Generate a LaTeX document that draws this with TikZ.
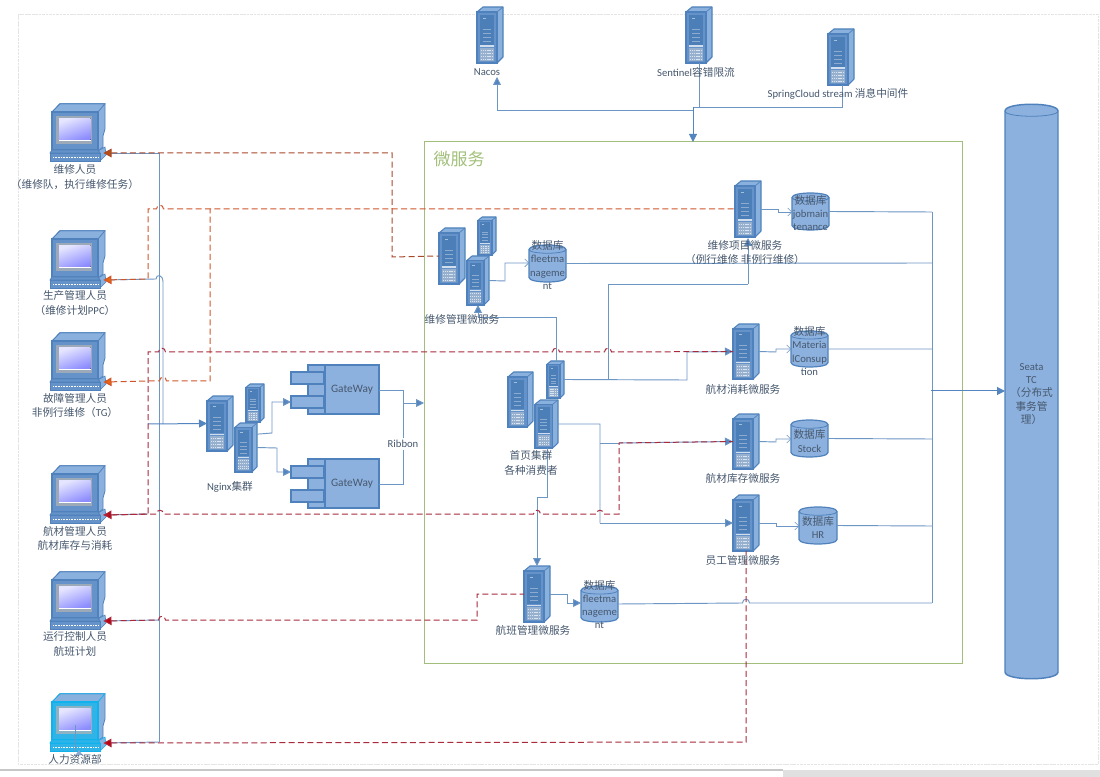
\documentclass[tikz,border=0pt]{standalone}
\usepackage{fontspec}
\setmainfont{Carlito}
\newfontfamily\cjk{Noto Sans CJK SC}
\usetikzlibrary{arrows.meta}
\definecolor{blueFill}{HTML}{8DB1DE}
\definecolor{blueSide}{HTML}{8AB0DE}
\definecolor{blueFront}{HTML}{6592C8}
\definecolor{blueEdge}{HTML}{4F82BC}
\definecolor{panelDark}{HTML}{4C7FB7}
\definecolor{link}{HTML}{6C96C4}
\definecolor{linkDark}{HTML}{5585BE}
\definecolor{txt}{HTML}{46586E}
\definecolor{dashA}{HTML}{A8482A}
\definecolor{dashB}{HTML}{D0552A}
\definecolor{dashC}{HTML}{A82A3C}
\definecolor{tipA}{HTML}{B8500F}
\definecolor{tipB}{HTML}{E8640F}
\definecolor{tipC}{HTML}{C00010}
\definecolor{frameG}{HTML}{A3BD7C}
\definecolor{titleG}{HTML}{A2C07A}
\definecolor{cyanEdge}{HTML}{10B2EE}
\definecolor{cyanFront}{HTML}{30B4E8}
\newcommand\C[1]{{\cjk #1}}
\newcommand\hr[2]{-- (#1-3.5,#2) .. controls (#1-3.5,#2-5) and (#1+3.5,#2-5) .. (#1+3.5,#2)}
\tikzset{
  x=0.75pt,y=-0.75pt,
  lnk/.style={draw=link,line width=0.7pt},
  lnkB/.style={draw=linkDark,line width=0.75pt},
  big/.style={-{Triangle[length=6pt,width=6pt,fill=linkDark]}},
  barb/.style={-{Straight Barb[length=3pt,width=6pt,line width=0.4pt]}},
  dsh/.style={line width=0.75pt,dash pattern=on 4.5pt off 2.5pt},
  tipR/.style={{Triangle[length=6pt,width=6.5pt,fill=#1]}-},
  lab/.style={inner sep=0pt,text=txt,font=\fontsize{8}{10.8}\selectfont,align=center},
  dbt/.style={inner sep=0pt,text=txt,font=\fontsize{8}{9.9}\selectfont,align=center},
  holder/.style={inner sep=0pt,outer sep=0pt,draw=none,fill=none},
}
% server: name, x, y, width, height
\newcommand\srv[5]{%
  \begin{scope}[shift={(#2,#3)},xscale=#4/26,yscale=#5/56]
    \fill[blueSide,draw=blueEdge,line width=0.8pt,line join=round] (0,5) -- (6,0) -- (26,0) -- (26,50) -- (20,56) -- (0,56) -- cycle;
    \fill[blueFront,draw=blueEdge,line width=1pt] (0,5) rectangle (20,56);
    \draw[blueEdge,line width=0.5pt] (20,5) -- (26,0);
    \fill[panelDark] (3,8) rectangle (17,38);
    \fill[white!70!blueFront] (3,38.5) rectangle (17,40);
    \fill[white!35!blueFront!85!gray] (3,41) rectangle (17,54);
    \foreach \yy in {43,46,49,52} {\draw[white!75!blueFront,line width=0.35pt,dash pattern=on 0.8pt off 0.6pt] (4,\yy) -- (16,\yy);}
    \foreach \yy in {22,26,30,34} {\draw[white!35!panelDark,line width=0.35pt] (6,\yy) -- (14,\yy);}
    \draw[white!50!panelDark,line width=0.5pt] (6,11) -- (9,11);
    \node[holder,minimum width=#4*0.75pt,minimum height=#5*0.75pt] (#1) at (13,28) {};
  \end{scope}}
% terminal: name, x, y, edge, front
\newcommand\term[5]{%
  \begin{scope}[shift={(#2,#3)}]
    \fill[blueSide,draw=blueEdge,line width=0.6pt,line join=round] (2,9) -- (10,0.7) -- (55,0.7) -- (55,26) -- (53,33) -- (53,44) -- (48,48) -- (2,48) -- cycle;
    \draw[#4,line width=0.6pt] (2,9) -- (10,0.7) -- (55,0.7) -- (48,9);
    \fill[#5,draw=#4,line width=0.9pt] (2,9) rectangle (48,47);
    \fill[black!30!white!70!#5] (6,13) rectangle (42,41);
    \fill[left color=white!90!blue,right color=blue!45!white,shading angle=20] (9,15.5) rectangle (40.5,37);
    \draw[white,line width=0.5pt] (9,37.6) -- (40.5,37.6);
    \fill[blueSide,draw=#4,line width=0.5pt,line join=round] (48,48) -- (55,44) -- (56,52) -- (50,58) -- (50,50) -- cycle;
    \fill[#5,draw=#4,line width=0.6pt] (2,47) -- (48,47) -- (50,50) -- (0,50) -- cycle;
    \fill[#5,draw=#4,line width=0.7pt] (0,50) rectangle (50,58);
    \draw[white,line width=1.4pt,dash pattern=on 0.7pt off 0.5pt] (3,54.5) -- (48,54.5);
    \node[holder,minimum width=42pt,minimum height=43.5pt] (#1) at (28,29) {};
    \coordinate (#1p) at (53.5,50);
  \end{scope}}
% database: name, x, y, w, h
\newcommand\dbase[5]{%
  \begin{scope}[shift={(#2,#3)},xscale=#4/37,yscale=#5/37]
    \fill[blueFill,draw=blueEdge,line width=0.9pt] (0,4.5) -- (0,32.5) .. controls (0,38.5) and (37,38.5) .. (37,32.5) -- (37,4.5) .. controls (37,-1.5) and (0,-1.5) .. (0,4.5) -- cycle;
    \draw[blueEdge,line width=0.6pt] (0,4.5) .. controls (0,9.5) and (37,9.5) .. (37,4.5);
    \node[holder,minimum width=#4*0.75pt,minimum height=#5*0.75pt] (#1) at (18.5,18.5) {};
  \end{scope}}
% gateway: name, x, y (top-left of prongs)
\newcommand\gatew[3]{%
  \begin{scope}[shift={(#2,#3)}]
    \fill[blueFill,draw=blueEdge,line width=1pt] (17,0) rectangle (34,49);
    \fill[blueFill,draw=blueEdge,line width=1pt] (34,0) rectangle (88,49);
    \fill[blueFill,draw=blueEdge,line width=1pt] (0,7) rectangle (33,19);
    \fill[blueFill,draw=blueEdge,line width=1pt] (0,31) rectangle (33,43);
    \node[holder,minimum width=66pt,minimum height=36.75pt] (#1) at (44,24.5) {};
    \node[lab,font=\fontsize{8.5}{10}\selectfont] (#1t) at (61,24.5) {GateWay};
  \end{scope}}
\begin{document}
\begin{tikzpicture}
\useasboundingbox (0,0) rectangle (1100,777);
\fill[white] (0,0) rectangle (1100,777);
% frames
\draw[black!10,line width=0.5pt,dash pattern=on 2pt off 0.6pt] (18,14) rectangle (1098,764);
\draw[black!22,line width=0.8pt] (0,770) -- (783,770);
\fill[black!12] (783,769.5) rectangle (1100,777);
\draw[frameG,line width=0.75pt] (424,142) rectangle (962,663);
\node[inner sep=0pt,text=titleG,font=\fontsize{12.75}{14}\selectfont] (title) at (459,159) {\C{微服务}};

% shapes
\srv{nacos}{477}{7}{26}{56}
\srv{sentinel}{686}{7}{26}{56}
\srv{spring}{828}{29}{26}{56}
\srv{job}{735}{181}{26}{56}
\srv{mbig}{439}{228}{26}{56}
\srv{msmall}{478}{217}{18}{38}
\srv{mmid}{467}{256}{22}{49}
\srv{nbig}{207}{396}{26}{55}
\srv{nsmall}{246}{384}{18}{38}
\srv{nmid}{235}{423}{22}{49}
\srv{hbig}{508}{372}{25}{55}
\srv{hsmall}{547}{361}{17}{37}
\srv{hmid}{535}{400}{23}{48}
\srv{flight}{524}{566}{26}{56}
\srv{cons}{733}{324}{26}{55}
\srv{stock}{733}{414}{26}{55}
\srv{staff}{733}{495}{26}{56}
\dbase{djob}{792}{193}{37}{37}
\dbase{dfleet}{529}{245}{37}{37}
\dbase{dmat}{791}{331}{37}{36}
\dbase{dstock}{791}{420}{37}{37}
\dbase{dhr}{799}{507}{38}{37}
\dbase{dfleetb}{581}{586}{37}{36}
\gatew{gwa}{291}{365}
\gatew{gwb}{291}{459}
% Seata cylinder
\fill[blueFill,draw=blueEdge,line width=1.1pt] (1005,111) -- (1005,672) .. controls (1005,681) and (1058,681) .. (1058,672) -- (1058,111) .. controls (1058,102) and (1005,102) .. (1005,111) -- cycle;
\draw[blueEdge,line width=0.6pt] (1005,111) .. controls (1005,118) and (1058,118) .. (1058,111);
\node[holder,minimum width=39.75pt,minimum height=430pt] (seata) at (1031.5,391) {};
\term{pca}{50}{103}{blueEdge}{blueFront}
\term{pcb}{50}{230}{blueEdge}{blueFront}
\term{pcc}{50}{332}{blueEdge}{blueFront}
\term{pcd}{50}{465}{blueEdge}{blueFront}
\term{pce}{50}{571}{blueEdge}{blueFront}
\term{pcf}{50}{693}{cyanEdge}{cyanFront}
\draw[link,line width=0.4pt] (75,725) -- (75,752);
\fill[linkDark!70!white] (79,750) -- (75.5,755) -- (82.5,755) -- cycle;

% blue links, left side
\draw[lnk] (159,153) -- (159,742);
\draw[lnk] (pcap) -- (159,153);
\draw[lnk] (pcep) -- (159,620);
\draw[lnk] (pcfp) -- (159,742);
\draw[lnk] (pcbp) -- (156,279) .. controls (156,274) and (163,274) .. (163,282) -- (163,424);
\draw[lnkB,big] (148,424) -- (nbig.west);
\draw[lnk] (pcdp) -- (148,514);
% nginx to gateways
\draw[lnk,big] ([yshift=10pt]nmid.east) -- (272,433) -- (272,402) -- (291,402);
\draw[lnk,big] (nmid.east) -- (277,448) -- (277,472) -- (291,472);
\draw[lnk] (379,390) -- (403,390) -- (403,484) -- (379,484);
\draw[lnk,big] (403,403) -- (424,403);
\node[lab,fill=white,inner xsep=1pt,inner ysep=2pt] (ribbon) at (403,444) {Ribbon};
% top links
\draw[lnk,big] (693,110) -- (497,110) -- (497,77);
\draw[lnk] (699,63) -- (699,107);
\draw[lnk] (842,85) -- (842,107) -- (693,107);
\draw[lnkB,big] (693,107) -- (693,142);
% service to database
\draw[lnk,barb] (mmid.east) -- (505,281) -- (505,263) -- (529,263);
\draw[lnk,barb] (job.east) -- (778,209) -- (778,212) -- (792,212);
\draw[lnk,barb] (cons.east) -- (776,352) -- (776,349) -- (791,349);
\draw[lnk,barb] (stock.east) -- (776,442) -- (776,439) -- (791,439);
\draw[lnk,barb] (staff.east) -- (776,523) -- (776,526) -- (799,526);
\draw[lnk,big] (flight.east) -- (567,594) -- (567,603) -- (581,603);
% database to TC
\draw[lnk] (dfleet.east) -- (932,263);
\draw[lnk] (djob.east) -- (932,212);
\draw[lnk] (dmat.east) -- (932,349);
\draw[lnk] (dstock.east) -- (932,439);
\draw[lnk] (dhr.east) -- (932,526);
\draw[lnk] (dfleetb.east) \hr{746}{603} -- (932,603);
\draw[lnk] (932,212) -- (932,603);
\draw[lnkB,big] (931,391) -- (seata.west);
% home cluster
\draw[lnk] (hsmall.east) -- (687,380) -- (687,352);
\draw[lnk] (608,380) -- (608,284) -- (748,284);
\draw[lnk,big] (748,284) -- (748,238);
\draw[lnk,big] (556,361) -- (556,317) -- (478,317) -- (478,305);
\draw[lnk] (hmid.east) -- (600,424) -- (600,523);
\draw[lnk,big] (600,523) -- (staff.west);
\draw[lnk] (600,443) -- (619,443);
\draw[lnk,big] (687,352) -- (cons.west);
\draw[lnk,big] (619,443) -- (stock.west);
\draw[lnk,big] (547,448) -- (547,497) -- (537,497) -- (537,566);

% dashed control links
\draw[dashA,dsh,tipR=tipA] (pcap) -- (392,153) -- (392,257) -- (mbig.west);
\draw[dashB,dsh,tipR=tipB] (pcbp) -- (148,279) -- (148,209) \hr{160}{209} -- (job.west);
\draw[dashB,dsh,tipR=tipB] (pccp) -- (148,381) \hr{163}{381} -- (210,381) -- (210,209);
\draw[dashC,dsh,tipR=tipC] (pcdp) -- (148,514) -- (148,352) \hr{162}{352} \hr{556}{352} \hr{608}{352} -- (cons.west);
\draw[dashC,dsh] (pcdp) \hr{160}{514} \hr{537}{514} \hr{600}{514} -- (619,514) -- (619,443) -- (stock.west);
\draw[dashC,dsh,tipR=tipC] (pcep) \hr{162}{620} -- (477,620) -- (477,594) -- (flight.west);
\draw[dashC,dsh,tipR=tipC] (pcfp) -- (746,742) -- (746,551);

% labels
\node[lab] (la) at (75,177) {\C{维修人员}\\\C{（维修队，执行维修任务）}};
\node[lab] (lb) at (75,303) {\C{生产管理人员}\\\C{（维修计划}PPC\C{）}};
\node[lab] (lc) at (75,405.5) {\C{故障管理人员}\\\C{非例行维修（}TG\C{）}};
\node[lab] (ld) at (75,538.5) {\C{航材管理人员}\\\C{航材库存与消耗}};
\node[lab] (le) at (75,644) {\C{运行控制人员}\\\C{航班计划}};
\node[lab] (lf) at (75,759) {\C{人力资源部}};
\node[lab] (lnacos) at (487,72) {Nacos};
\node[lab] (lsent) at (696,72) {Sentinel\C{容错限流}};
\node[lab] (lspring) at (838,94) {SpringCloud stream \C{消息中间件}};
\node[lab] (ljob) at (745,252.5) {\C{维修项目微服务}\\\C{（例行维修 非例行维修）}};
\node[lab] (lmaint) at (462,319) {\C{维修管理微服务}};
\node[lab] (lnginx) at (230,487) {Nginx\C{集群}};
\node[lab] (lhome) at (531,463) {\C{首页集群}\\\C{各种消费者}};
\node[lab] (lflight) at (533,630) {\C{航班管理微服务}};
\node[lab] (lcons) at (743,389) {\C{航材消耗微服务}};
\node[lab] (lstock) at (743,478) {\C{航材库存微服务}};
\node[lab] (lstaff) at (743,560) {\C{员工管理微服务}};
\node[dbt] (tjob) at (810.5,213) {\C{数据库}\\jobmain\\tenance};
\node[dbt] (tfleet) at (547.5,265) {\C{数据库}\\fleetma\\nageme\\nt};
\node[dbt] (tmat) at (809.5,351) {\C{数据库}\\Materia\\lConsup\\tion};
\node[dbt] (tstock) at (809.5,441) {\C{数据库}\\Stock};
\node[dbt] (thr) at (818,527.5) {\C{数据库}\\HR};
\node[dbt] (tfleetb) at (599.5,604.5) {\C{数据库}\\fleetma\\nageme\\nt};
\node[dbt] (tseata) at (1031.5,394) {Seata\\TC\\\C{（分布式}\\\C{事务管}\\\C{理）}};
\end{tikzpicture}
\end{document}
